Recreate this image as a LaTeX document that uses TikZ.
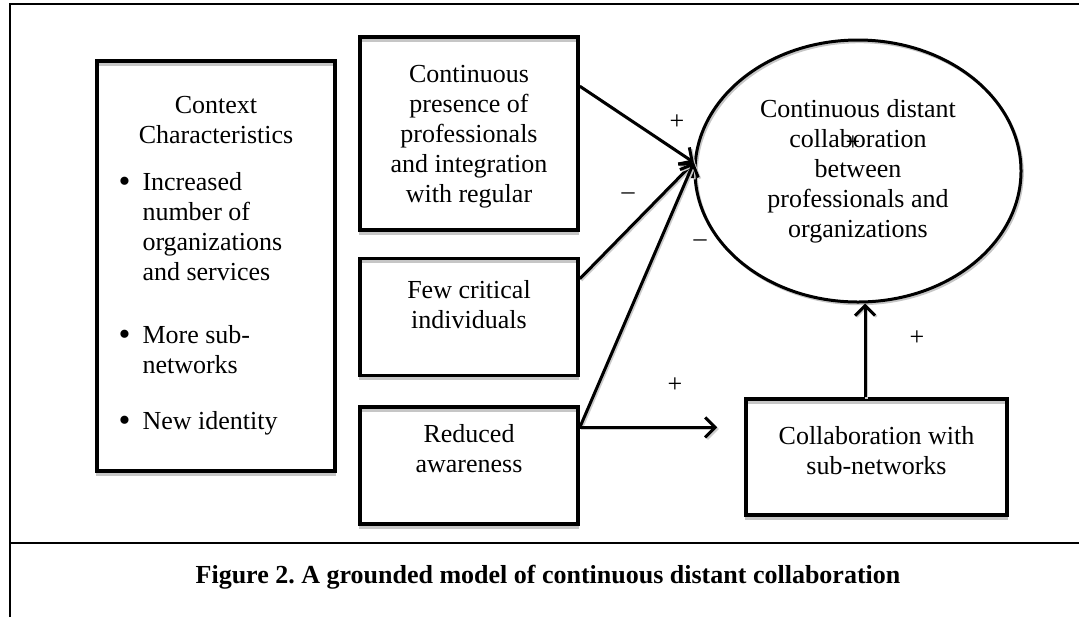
\documentclass[tikz,border=0pt]{standalone}
\usepackage{fontspec}
\setmainfont{Liberation Serif}
\usetikzlibrary{positioning,arrows.meta,shadows,shapes.geometric}
\setlength{\parindent}{0pt}
\frenchspacing
\newcommand{\bul}{\makebox[12pt][l]{\raisebox{-0.6pt}{\fontsize{17}{15}\selectfont\textbullet}}}

\tikzset{
    box/.style={draw, line width=1.8pt, inner sep=0pt, align=center,
        font=\fontsize{13}{15}\selectfont,
        general shadow={draw=gray!45, line width=1.4pt, shadow yshift=-1.6pt}},
    ell/.style={draw, ellipse, line width=1.5pt, inner sep=0pt, align=center,
        font=\fontsize{13}{15}\selectfont,
        general shadow={draw=gray!45, line width=1.2pt, shadow xshift=0.8pt, shadow yshift=-1pt}},
    arr/.style={line width=1.5pt, -{Straight Barb[length=5pt,width=10pt]},
        general shadow={draw=gray!40, line width=1.2pt, shadow xshift=0.8pt, shadow yshift=-0.8pt}},
    sign/.style={font=\fontsize{13}{15}\selectfont, inner sep=0pt},
    frame/.style={line width=1.4pt},
}

\begin{document}
\begin{tikzpicture}[x=0.5pt, y=-0.5pt]
    \useasboundingbox (0,0) rectangle (1079,617);

    % Frame and caption
    \draw[frame] (10,617) -- (10,4) -- (1079,4);
    \draw[frame] (10,543) -- (1079,543);
    \node[font=\bfseries\fontsize{13}{15}\selectfont] (caption) at (548,577)
        {Figure 2. A grounded model of continuous distant collaboration};

    % Context
    \node[box, minimum width=119pt, minimum height=205pt, text width=97.5pt, align=flush left] (context) at (216,266) {%
        {\centering Context\\Characteristics\par}
        \vspace{8.5pt}
        \bul Increased\\
        \hspace*{12pt}number of\\
        \hspace*{12pt}organizations\\
        \hspace*{12pt}and services\par
        \vspace{16.5pt}
        \bul More sub-\\
        \hspace*{12pt}networks\par
        \vspace{13pt}
        \bul New identity};

    % Factors
    \node[box, minimum width=109pt, minimum height=96.5pt, text depth=0pt] (presence) at (469,133.5)
        {Continuous\\presence of\\professionals\\and integration\\with regular};
    \node[box, minimum width=109pt, minimum height=58.5pt, text depth=13pt, below=12.5pt of presence] (critical)
        {Few critical\\individuals};
    \node[box, minimum width=109pt, minimum height=58.5pt, text depth=17pt, below=14pt of critical] (awareness)
        {Reduced\\awareness};

    % Outcomes
    \node[ell, minimum width=163pt, minimum height=131pt] (distant) at (858,171)
        {Continuous distant\\collaboration\\between\\professionals and\\organizations};
    \node[box, minimum width=130.5pt, minimum height=58pt, text depth=7pt] (subnet) at (876.5,457)
        {Collaboration with\\sub-networks};

    \coordinate (presence_out) at ([yshift=-25.5pt]presence.north east);
    \coordinate (critical_out) at ([yshift=-11pt]critical.north east);
    \coordinate (awareness_out) at ([yshift=-11pt]awareness.north east);
    \coordinate (distant_in) at (distant.177);

    \draw[arr] (presence_out) -- (distant_in);
    \draw[arr] (critical_out) -- (distant_in);
    \draw[arr] (awareness_out) -- (distant_in);
    \draw[arr, shorten >=13.5pt] (awareness_out) -- (awareness_out -| subnet.west);
    \draw[arr] ([xshift=-5.75pt]subnet.north) -- ([xshift=-5.75pt]subnet.north |- distant.south);

    % Signs
    \node[sign] (sign_presence) at (677,122) {+};
    \node[sign] (sign_critical) at (628,196) {\textendash};
    \node[sign] (sign_awareness) at (700,243) {\textendash};
    \node[sign] (sign_subnet) at (675,385) {+};
    \node[sign] (sign_up) at (917,338) {+};
    \node[sign] (sign_stray) at (853,143) {+};
\end{tikzpicture}
\end{document}
